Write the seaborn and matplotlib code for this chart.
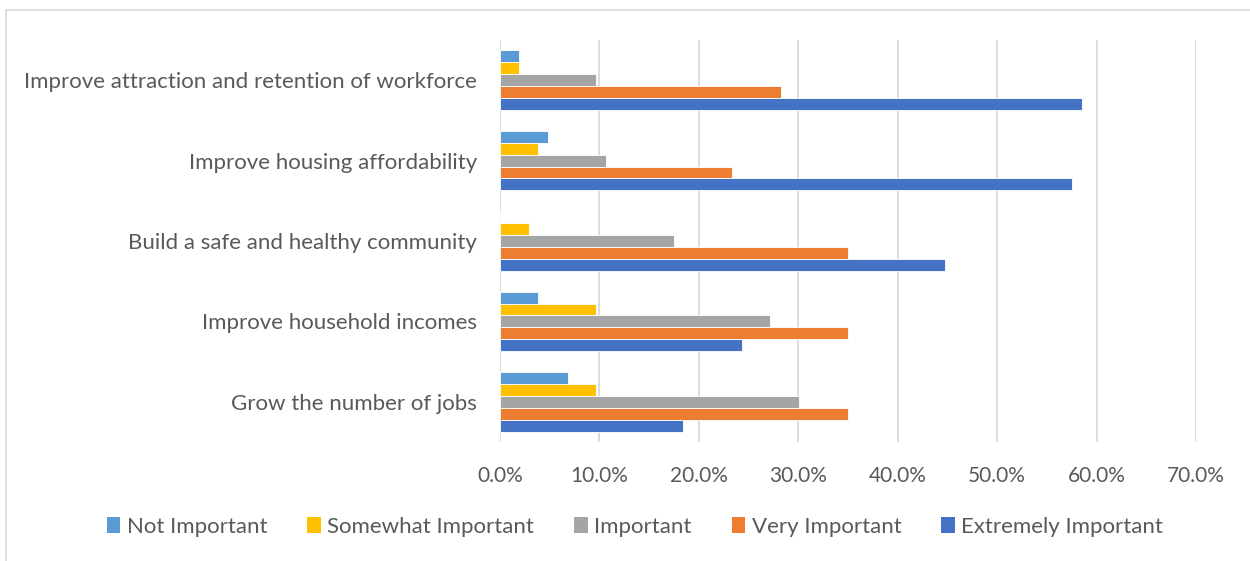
import matplotlib
matplotlib.use("Agg")
import matplotlib.pyplot as plt
import matplotlib.patches as mpatches
from matplotlib.ticker import FuncFormatter, MultipleLocator
import seaborn as sns
import pandas as pd

# Survey priorities and share of respondents per importance rating (%)
priorities = [
    "Improve attraction and retention of workforce",
    "Improve housing affordability",
    "Build a safe and healthy community",
    "Improve household incomes",
    "Grow the number of jobs",
]
ratings = ["Not Important", "Somewhat Important", "Important",
           "Very Important", "Extremely Important"]

not_important = [1.9, 4.8, 0.0, 3.8, 6.8]
somewhat_important = [1.9, 3.8, 2.9, 9.7, 9.7]
important = [9.7, 10.7, 17.5, 27.2, 30.1]
very_important = [28.3, 23.3, 35.0, 35.0, 35.0]
extremely_important = [58.5, 57.5, 44.8, 24.3, 18.4]

colors = ["#5B9BD5", "#FFC000", "#A5A5A5", "#ED7D31", "#4472C4"]

series = [not_important, somewhat_important, important,
          very_important, extremely_important]
rows = []
for rating, vals in zip(ratings, series):
    for p, v in zip(priorities, vals):
        rows.append({"priority": p, "rating": rating, "share": v})
df = pd.DataFrame(rows)

sns.set_theme(style="white")
plt.rcParams["font.family"] = ["Lato", "DejaVu Sans"]
text_color = "#595959"

fig = plt.figure(figsize=(12.5, 5.61), dpi=100)
ax = fig.add_axes([0.4, 1 - 442 / 561, 0.5568, (442 - 40) / 561])

sns.barplot(data=df, x="share", y="priority", hue="rating",
            order=priorities, hue_order=ratings, palette=colors,
            orient="h", width=0.74, ax=ax, legend=False,
            edgecolor="white", linewidth=0.6, saturation=1)

ax.set_xlim(0, 70)
ax.xaxis.set_major_locator(MultipleLocator(10))
ax.xaxis.set_major_formatter(FuncFormatter(lambda v, _: f"{v:.1f}%"))
ax.grid(axis="x", color="#D9D9D9", linewidth=1.3)
ax.set_axisbelow(True)
for s in ax.spines.values():
    s.set_visible(False)
ax.set_xlabel("")
ax.set_ylabel("")
ax.tick_params(axis="x", length=0, pad=17, labelsize=15, labelcolor=text_color)
ax.tick_params(axis="y", length=0, pad=16.5, labelsize=16, labelcolor=text_color)

handles = [mpatches.Patch(facecolor=c, edgecolor="none") for c in colors]
fig.legend(handles, ratings, loc="center", bbox_to_anchor=(0.508, 1 - 527 / 561),
           ncol=5, frameon=False, fontsize=16, labelcolor=text_color,
           handlelength=0.6, handleheight=0.7, handletextpad=0.3,
           columnspacing=1.8)

# Light chart-area border
fig.add_artist(plt.Rectangle((6 / 1250, -0.05), 1.1, 1 - 10 / 561 + 0.05,
                             transform=fig.transFigure, fill=False,
                             edgecolor="#D9D9D9", linewidth=1.2))

fig.savefig("out.png", dpi=100, facecolor="white")
